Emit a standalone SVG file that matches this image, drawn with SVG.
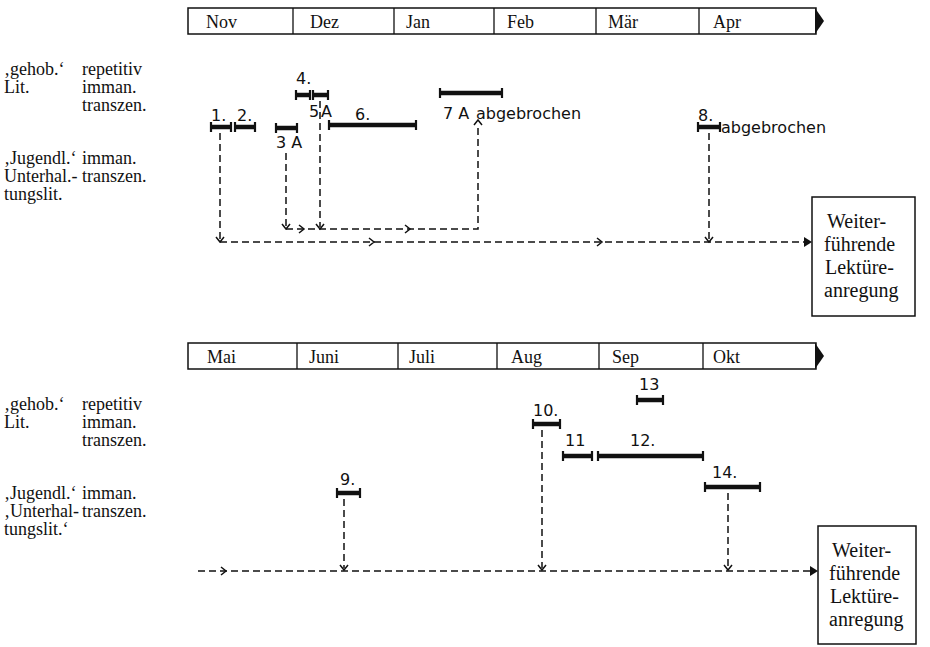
<svg xmlns="http://www.w3.org/2000/svg" width="930" height="647" viewBox="0 0 930 647">
<style>
.serif{font-family:"Liberation Serif","Times New Roman",serif;font-size:18px;fill:#111}
.bx{font-family:"Liberation Serif","Times New Roman",serif;font-size:20px;fill:#111}
.num{font-family:"DejaVu Sans","Liberation Sans",sans-serif;font-size:16px;fill:#111}
.bar{stroke:#111;stroke-width:4.5;fill:none}
.tick{stroke:#111;stroke-width:2.2;fill:none}
.div{stroke:#111;stroke-width:1.3;fill:none}
.frame{fill:#fff;stroke:#111;stroke-width:1.5}
.dash{stroke:#111;stroke-width:1.5;fill:none;stroke-dasharray:7 4}
.head{stroke:#111;stroke-width:1.5;fill:none}
.fill{fill:#111;stroke:none}
</style>
<rect width="930" height="647" fill="#fff"/>
<g id="timeline-top">
<rect class="frame" x="188" y="8" width="628" height="26"/>
<path class="fill" d="M815,8 L824,21 L815,34 Z"/>
<path class="div" d="M293,8V34 M394,8V34 M494,8V34 M596,8V34 M699,8V34"/>
<text class="serif" x="206" y="28">Nov</text>
<text class="serif" x="310" y="28">Dez</text>
<text class="serif" x="406" y="28">Jan</text>
<text class="serif" x="507" y="28">Feb</text>
<text class="serif" x="608" y="28">Mär</text>
<text class="serif" x="713" y="28">Apr</text>
</g>
<g id="labels-top">
<text class="serif" x="4" y="75">‚gehob.‘</text>
<text class="serif" x="4" y="93">Lit.</text>
<text class="serif" x="82" y="75">repetitiv</text>
<text class="serif" x="82" y="93">imman.</text>
<text class="serif" x="82" y="111">transzen.</text>
<text class="serif" x="4" y="164">‚Jugendl.‘</text>
<text class="serif" x="4" y="182">Unterhal.-</text>
<text class="serif" x="4" y="200">tungslit.</text>
<text class="serif" x="82" y="164">imman.</text>
<text class="serif" x="82" y="182">transzen.</text>
</g>
<g id="bar1"><path class="bar" d="M211,127H231"/><path class="tick" d="M211,122V132M231,122V132"/><text class="num" x="211" y="121">1.</text></g>
<g id="bar2"><path class="bar" d="M235,127H255"/><path class="tick" d="M235,122V132M255,122V132"/><text class="num" x="237" y="121">2.</text></g>
<g id="bar3"><path class="bar" d="M276,128H297"/><path class="tick" d="M276,123V133M297,123V133"/><text class="num" x="276" y="148">3 A</text></g>
<g id="bar4"><path class="bar" d="M296,95H310"/><path class="tick" d="M296,90V100M310,90V100"/><text class="num" x="296" y="84">4.</text></g>
<g id="bar5"><path class="bar" d="M313,95H328"/><path class="tick" d="M313,90V100M328,90V100"/><text class="num" x="309" y="117">5</text><text class="num" x="321" y="117">A</text></g>
<g id="bar6"><path class="bar" d="M329,125H416"/><path class="tick" d="M329,120V130M416,120V130"/><text class="num" x="355" y="120">6.</text></g>
<g id="bar7"><path class="bar" d="M440,93H502"/><path class="tick" d="M440,88V98M502,88V98"/><text class="num" x="443" y="119">7 A</text><text class="num" x="476" y="119">abgebrochen</text></g>
<g id="bar8"><path class="bar" d="M698,127H720"/><path class="tick" d="M698,122V132M720,122V132"/><text class="num" x="698" y="121">8.</text><text class="num" x="721" y="133">abgebrochen</text></g>
<g id="box-top">
<rect class="frame" x="812" y="197" width="103" height="119"/>
<text class="bx" x="827" y="228">Weiter-</text>
<text class="bx" x="824" y="251">führende</text>
<text class="bx" x="825" y="274">Lektüre-</text>
<text class="bx" x="824" y="297">anregung</text>
</g>
<g id="timeline-bottom">
<rect class="frame" x="188" y="343" width="628" height="26"/>
<path class="fill" d="M815,343 L824,356 L815,369 Z"/>
<path class="div" d="M297,343V369 M398,343V369 M497,343V369 M599,343V369 M703,343V369"/>
<text class="serif" x="207" y="363">Mai</text>
<text class="serif" x="309" y="363">Juni</text>
<text class="serif" x="409" y="363">Juli</text>
<text class="serif" x="511" y="363">Aug</text>
<text class="serif" x="612" y="363">Sep</text>
<text class="serif" x="713" y="363">Okt</text>
</g>
<g id="labels-bottom">
<text class="serif" x="4" y="410">‚gehob.‘</text>
<text class="serif" x="4" y="428">Lit.</text>
<text class="serif" x="82" y="410">repetitiv</text>
<text class="serif" x="82" y="428">imman.</text>
<text class="serif" x="82" y="446">transzen.</text>
<text class="serif" x="4" y="499">‚Jugendl.‘</text>
<text class="serif" x="4" y="517">‚Unterhal-</text>
<text class="serif" x="4" y="535">tungslit.‘</text>
<text class="serif" x="82" y="499">imman.</text>
<text class="serif" x="82" y="517">transzen.</text>
</g>
<g id="bar9"><path class="bar" d="M337,493H360"/><path class="tick" d="M337,488V498M360,488V498"/><text class="num" x="340" y="485">9.</text></g>
<g id="bar10"><path class="bar" d="M533,424H560"/><path class="tick" d="M533,419V429M560,419V429"/><text class="num" x="533" y="416">10.</text></g>
<g id="bar11"><path class="bar" d="M563,456H592"/><path class="tick" d="M563,451V461M592,451V461"/><text class="num" x="565" y="446">11</text></g>
<g id="bar12"><path class="bar" d="M598,456H703"/><path class="tick" d="M598,451V461M703,451V461"/><text class="num" x="630" y="446">12.</text></g>
<g id="bar13"><path class="bar" d="M637,400H663"/><path class="tick" d="M637,395V405M663,395V405"/><text class="num" x="639" y="390">13</text></g>
<g id="bar14"><path class="bar" d="M705,487H760"/><path class="tick" d="M705,482V492M760,482V492"/><text class="num" x="712" y="478">14.</text></g>
<g id="box-bottom">
<rect class="frame" x="818" y="526" width="98" height="118"/>
<text class="bx" x="832" y="557">Weiter-</text>
<text class="bx" x="829" y="580">führende</text>
<text class="bx" x="830" y="603">Lektüre-</text>
<text class="bx" x="829" y="626">anregung</text>
</g>
<g id="connectors">
<path class="dash" d="M220,133V240 M220,242H811"/>
<path class="head" d="M216,237L220,242L224,237 M369,238L374,242L369,246 M597,238L602,242L597,246"/>
<path class="fill" d="M804,237L812,242L804,247Z"/>
<path class="dash" d="M286,153V227 M286,229H478V124"/>
<path class="head" d="M282,224L286,229L290,224 M299,225L304,229L299,233 M405,225L410,229L405,233 M474,125L478,120L482,125"/>
<path class="dash" d="M320,101V227"/>
<path class="head" d="M316,224L320,229L324,224"/>
<path class="dash" d="M709,133V240"/>
<path class="head" d="M705,237L709,242L713,237"/>
<path class="dash" d="M198,571H816"/>
<path class="head" d="M221,567L226,571L221,575"/>
<path class="fill" d="M810,566L818,571L810,576Z"/>
<path class="dash" d="M344,499V568"/>
<path class="head" d="M340,565L344,570L348,565"/>
<path class="dash" d="M542,430V568"/>
<path class="head" d="M538,565L542,570L546,565"/>
<path class="dash" d="M728,493V568"/>
<path class="head" d="M724,565L728,570L732,565"/>
</g>
</svg>
